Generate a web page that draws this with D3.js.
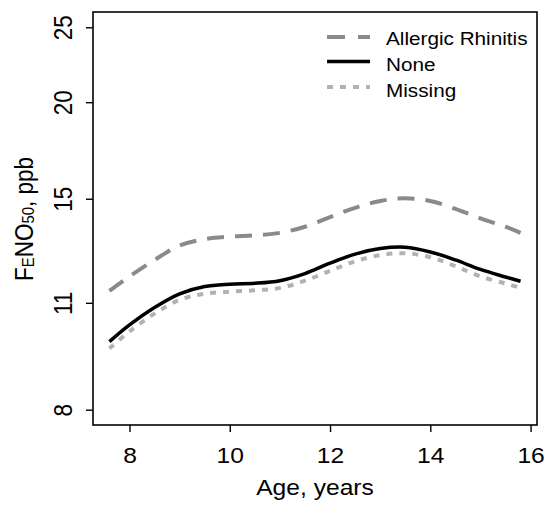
<!DOCTYPE html>
<html><head><meta charset="utf-8">
<script src="https://cdn.jsdelivr.net/npm/d3@7"></script>
<style>body{margin:0;background:#fff;} text{font-family:"Liberation Sans",Arial,sans-serif;}</style>
</head><body>
<svg id="c" width="552" height="507"></svg>
<script>
const ages = [7.6, 8.0, 8.5, 9.0, 9.5, 10.0, 10.5, 11.0, 11.5, 12.0, 12.5, 13.0, 13.5, 14.0, 14.5, 15.0, 15.5, 15.8];
const allergic = [11.4, 11.9, 12.5, 13.05, 13.3, 13.4, 13.45, 13.55, 13.8, 14.2, 14.6, 14.9, 15.02, 14.9, 14.55, 14.15, 13.8, 13.55];
const none = [9.8, 10.3, 10.85, 11.3, 11.55, 11.63, 11.66, 11.75, 12.0, 12.38, 12.72, 12.93, 12.98, 12.8, 12.5, 12.15, 11.88, 11.73];
const missing = [9.6, 10.1, 10.65, 11.1, 11.3, 11.37, 11.42, 11.5, 11.75, 12.1, 12.45, 12.68, 12.75, 12.6, 12.27, 11.9, 11.65, 11.5];
const xTicks = [8, 10, 12, 14, 16];
const yTicks = [8, 11, 15, 20, 25];
const seriesNames = ["Allergic Rhinitis", "None", "Missing"];

const svg = d3.select("#c");
const L = 93, R = 537, T = 12, B = 425;
const SX = 1.12;
const xr = 15.8 - 7.6, xpad = xr * 0.04;
const x = d3.scaleLinear().domain([7.6 - xpad, 15.8 + xpad]).range([L, R]);
const lr = Math.log(25) - Math.log(8), lpad = lr * 0.04;
const y = d3.scaleLog().domain([Math.exp(Math.log(8) - lpad), Math.exp(Math.log(25) + lpad)]).range([B, T]);

const styles = [
  {color: "#8a8a8a", width: 4, dash: "17,11"},
  {color: "#000", width: 3.5, dash: null},
  {color: "#b2b2b2", width: 4, dash: "6,7"}
];
const data = [allergic, none, missing];
const line = d3.line().x(d => x(d[0])).y(d => y(d[1])).curve(d3.curveCatmullRom.alpha(0.5));
const order = [0, 2, 1];
order.forEach(i => {
  const vals = data[i];
  const pts = ages.map((a, j) => [a, vals[j]]);
  const p = svg.append("path").attr("d", line(pts)).attr("fill", "none")
    .attr("stroke", styles[i].color).attr("stroke-width", styles[i].width);
  if (styles[i].dash) p.attr("stroke-dasharray", styles[i].dash);
});

svg.append("rect").attr("x", L).attr("y", T).attr("width", R - L).attr("height", B - T)
  .attr("fill", "none").attr("stroke", "#000").attr("stroke-width", 1.6);

const xa = svg.append("g").attr("transform", `translate(0,${B})`)
  .call(d3.axisBottom(x).tickValues(xTicks).tickSize(7).tickFormat(d3.format("d")));
xa.select(".domain").remove();
xa.selectAll("line").attr("stroke-width", 1.4);
xa.selectAll("text").attr("font-size", 22).attr("fill", "#000")
  .attr("y", 0).attr("dy", 0).attr("transform", `translate(0,38) scale(${SX},1)`);

const ya = svg.append("g").attr("transform", `translate(${L},0)`)
  .call(d3.axisLeft(y).tickValues(yTicks).tickSize(7).tickFormat(d3.format("d")));
ya.select(".domain").remove();
ya.selectAll("line").attr("stroke-width", 1.4);
ya.selectAll(".tick text").attr("font-size", 22.5).attr("fill", "#000")
  .attr("x", 0).attr("y", 0).attr("dy", 0).attr("text-anchor", "middle")
  .attr("transform", `translate(-21,0) rotate(-90) scale(1,${SX})`);

svg.append("g").attr("transform", "translate(315,495)")
  .append("text").attr("text-anchor", "middle").attr("font-size", 22)
  .attr("transform", `scale(${SX},1)`).text("Age, years");

const yl = svg.append("text").attr("transform", `translate(33,219) rotate(-90) scale(1,${SX})`)
  .attr("text-anchor", "middle").attr("font-size", 22.5);
yl.append("tspan").text("F");
yl.append("tspan").attr("font-size", 15).attr("dy", 1).text("E");
yl.append("tspan").attr("dy", -1).text("NO");
yl.append("tspan").attr("font-size", 15).attr("dy", 1).text("50");
yl.append("tspan").attr("dy", -1).text(", ppb");

const legLine = [37, 61.5, 87];
const legText = [44.5, 71, 97];
seriesNames.forEach((n, i) => {
  const l = svg.append("line").attr("x1", 327).attr("x2", 370).attr("y1", legLine[i]).attr("y2", legLine[i])
    .attr("stroke", styles[i].color).attr("stroke-width", styles[i].width);
  if (styles[i].dash) l.attr("stroke-dasharray", i === 0 ? "18,13" : "6,7");
  svg.append("g").attr("transform", `translate(386,${legText[i]})`)
    .append("text").attr("font-size", 18.5).attr("transform", `scale(${SX},1)`).text(n);
});
</script>
</body></html>
